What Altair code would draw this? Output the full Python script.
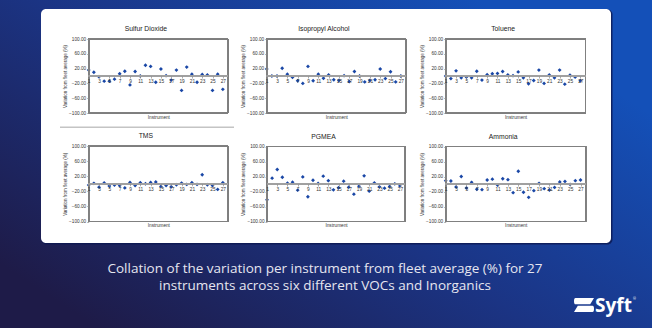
import altair as alt
import pandas as pd

# ---------------- data ----------------
instruments = list(range(1, 28))
sulfur_dioxide = [16, 10, -2, -14, -14, -8.5, 6, 13, -24, 12, 0, 29, 26, -17, 19, 1, -11, 16, -39, 24, 5, -17, 4, 3, -39, 5, -36]
isopropyl_alcohol = [19, 0, 0, 21, 5, -3.5, -13, -20, 26, -13, 5, -6, 3, -10, -12, 1, -15, 12, 0, -16, -12, -10, 19, -7, 11.5, -16, 0]
toluene = [0, -7, 14, -5, -3, -5, 13, -11, 3.5, 6, 7, 12, 3, 1, 11, -5, -21, -12, 16, -20, 3, -5, 16, -22, 2, -3, -13]
tms = [-3.5, 1, -9, 2, -6, -3.5, -5, -11, 3.5, -4.5, 2.7, 0, 3.5, 4.5, -7, -4.5, -8, -2.7, 1.8, -1.8, 2.7, -1.8, 24, -2.7, -4.5, -15, 2.7]
pgmea = [-42, 15.5, 38.7, 18, 2, 5, -16.4, 19, -34, 10, 1.3, 21, 9, -15.6, -10, 7.5, -8.4, -27, -6, 21.8, -19, 3, -7.5, -11, -6.7, 0.4, -5]
ammonia = [9, 8, -8, 20, -10.7, 4.4, -14, -15, 10.7, 13, -2.7, 14, 11.5, -23, 34, -22, -35.6, -17.8, 1.8, -12.4, -16, -9, 5.3, 7, -1, 9, 10.7]

titles = ["Sulfur Dioxide", "Isopropyl Alcohol", "Toluene", "TMS", "PGMEA", "Ammonia"]
series = [sulfur_dioxide, isopropyl_alcohol, toluene, tms, pgmea, ammonia]
x_tick_labels = list(range(1, 28, 2))
y_tick_labels = list(range(-100, 101, 20))
caption_lines = [
    "Collation of the variation per instrument from fleet average (%) for 27",
    "instruments across six different VOCs and Inorganics",
]

# ---------------- layout (pixels) ----------------
W, H = 652, 328
frames = [
    (88.7, 228.0, 39.0, 113.0),
    (266.7, 406.0, 39.0, 113.0),
    (445.7, 585.5, 39.0, 113.0),
    (88.7, 228.0, 146.0, 221.5),
    (267.0, 405.0, 146.5, 221.5),
    (445.7, 585.7, 146.5, 221.5),
]

AX_FONT = "Liberation Sans"
one = alt.Data(values=[{}])

bg = alt.Chart(one).mark_rect(
    fill=alt.LinearGradient(
        gradient="linear",
        stops=[
            alt.GradientStop(color="#1e1b48", offset=0),
            alt.GradientStop(color="#1b3484", offset=0.5),
            alt.GradientStop(color="#1450b8", offset=1),
        ],
        x1=0.15, y1=1, x2=1, y2=0.35,
    )
).encode(x=alt.value(0), x2=alt.value(W), y=alt.value(0), y2=alt.value(H))

shadow = alt.Chart(one).mark_rect(fill="#0c1850", opacity=0.8, cornerRadius=5).encode(
    x=alt.value(41.5), x2=alt.value(612.5), y=alt.value(9.5), y2=alt.value(244.5)
)
card = alt.Chart(one).mark_rect(fill="#ffffff", cornerRadius=5).encode(
    x=alt.value(41), x2=alt.value(611), y=alt.value(9), y2=alt.value(243)
)
separator = alt.Chart(one).mark_rule(color="#c4c4c4", strokeWidth=1.5).encode(
    x=alt.value(60), x2=alt.value(234), y=alt.value(127.3)
)


def make_panel(title, values, frame):
    x0, x1, y0, y1 = frame
    yz = (y0 + y1) / 2
    df = pd.DataFrame({"Instrument": instruments, "Value": values})
    xs = alt.Scale(domain=[1, 28], range=[x0, x1], nice=False, zero=False)
    ys = alt.Scale(domain=[-100, 100], range=[y1, y0], nice=False, zero=False)
    xaxis = alt.Axis(
        orient="bottom", offset=yz - H, values=x_tick_labels, domain=False,
        ticks=True, tickSize=2, tickColor="#8a8a8a", tickWidth=0.7,
        labelFont=AX_FONT, labelFontSize=4.8, labelColor="#333333",
        labelPadding=0.5, labelFlush=False, labelOverlap=False, grid=False,
        title="Instrument", titleFont=AX_FONT, titleFontSize=4.7,
        titleFontWeight="normal", titleColor="#333333", titlePadding=31,
        zindex=1,
    )
    yaxis = alt.Axis(
        orient="left", offset=-x0, values=y_tick_labels, format=".2f",
        domain=False, ticks=True, tickSize=2, tickColor="#8a8a8a",
        tickWidth=0.7, labelFont=AX_FONT, labelFontSize=4.7,
        labelColor="#333333", labelPadding=1, labelOverlap=False,
        labelFlush=False, grid=False,
        title="Variation from fleet average (%)", titleFont=AX_FONT,
        titleFontSize=4.5, titleFontWeight="normal", titleColor="#333333",
        titlePadding=1.5, zindex=1,
    )
    base = alt.Chart(df)
    frame_rect = base.mark_rect(fillOpacity=0, stroke="#808080", strokeWidth=0.9).encode(
        x=alt.datum(1), x2=alt.datum(28), y=alt.datum(100), y2=alt.datum(-100)
    )
    zero_rule = base.mark_rule(color="#a0a0a0", strokeWidth=1.6).encode(
        x=alt.datum(1), x2=alt.datum(28), y=alt.datum(0)
    )
    pts = base.mark_point(shape="diamond", filled=True, size=15, color="#1a47a6", opacity=1).encode(
        x=alt.X("Instrument:Q", scale=xs, axis=xaxis),
        y=alt.Y("Value:Q", scale=ys, axis=yaxis),
    )
    ttl = alt.Chart(one).mark_text(
        font=AX_FONT, fontSize=6.8, color="#222222", align="center", baseline="middle"
    ).encode(x=alt.value((x0 + x1) / 2 - 12.5), y=alt.value(y0 - 10), text=alt.value(title))
    return alt.layer(pts, frame_rect, zero_rule, ttl)


panels = [make_panel(t, v, f) for t, v, f in zip(titles, series, frames)]

caption = alt.Chart(one).mark_text(
    font="Open Sans", fontSize=13.5, color="#e6e6f0", align="center",
    baseline="alphabetic", lineHeight=17,
).encode(x=alt.value(325), y=alt.value(273), text=alt.value(caption_lines))

logo_text = alt.Chart(one).mark_text(
    font="Open Sans", fontSize=19, fontWeight="bold", color="#ffffff",
    align="left", baseline="alphabetic",
).encode(x=alt.value(595), y=alt.value(312), text=alt.value("Syft"))

logo_r = alt.Chart(one).mark_text(
    font="Open Sans", fontSize=3.5, color="#ffffff", align="left", baseline="middle"
).encode(x=alt.value(633), y=alt.value(299), text=alt.value("®"))

icon_path = (
    "M-0.85,-0.7 L1,-0.7 L0.62,-0.07 L-0.85,-0.07 Q-1,-0.07 -1,-0.38 Q-1,-0.7 -0.85,-0.7 Z "
    "M-0.62,0.07 L0.85,0.07 Q1,0.07 1,0.38 Q1,0.7 0.85,0.7 L-1,0.7 Z"
)
logo_icon = alt.Chart(one).mark_point(
    shape=icon_path, filled=True, color="#ffffff", size=400, opacity=1, strokeWidth=0
).encode(x=alt.value(584), y=alt.value(305))

chart = (
    alt.layer(bg, shadow, card, separator, *panels, caption, logo_text, logo_r, logo_icon)
    .resolve_scale(x="independent", y="independent")
    .properties(width=W, height=H, padding=0, autosize="none")
    .configure_view(stroke=None)
)

chart.save("out.html", embed_options={"renderer": "svg", "actions": False})
